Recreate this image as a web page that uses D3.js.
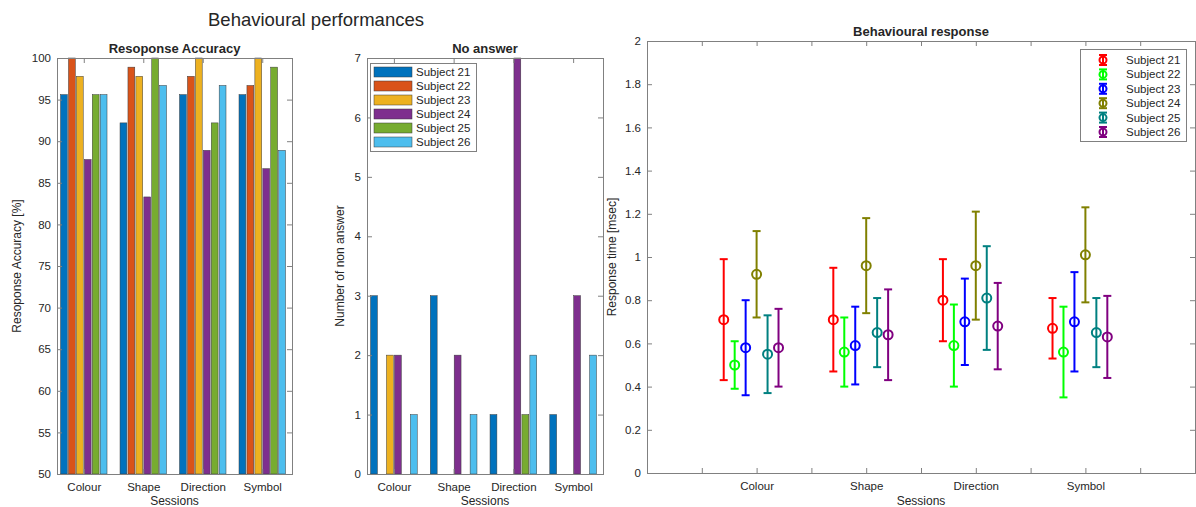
<!DOCTYPE html>
<html>
<head>
<meta charset="utf-8">
<script src="https://cdn.jsdelivr.net/npm/d3@7"></script>
<style>
  body { margin: 0; background: #fff; }
  svg { display: block; font-family: "Liberation Sans", Arial, sans-serif; }
  .tick text { fill: #262626; font-size: 11.5px; }
</style>
</head>
<body>
<svg id="fig" width="1196" height="507"></svg>
<script>
// ---- data ----
var sessions = ["Colour", "Shape", "Direction", "Symbol"];
var subjects = ["Subject 21", "Subject 22", "Subject 23", "Subject 24", "Subject 25", "Subject 26"];

// accuracy [%], one row per session, one value per subject
var accColour    = [95.6, 100, 97.8, 87.8, 95.6, 95.6];
var accShape     = [92.2, 98.9, 97.8, 83.3, 100, 96.7];
var accDirection = [95.6, 97.8, 100, 88.9, 92.2, 96.7];
var accSymbol    = [95.6, 96.7, 100, 86.7, 98.9, 88.9];

// number of non answers
var naColour    = [3, 0, 2, 2, 0, 1];
var naShape     = [3, 0, 0, 2, 0, 1];
var naDirection = [1, 0, 0, 7, 1, 2];
var naSymbol    = [1, 0, 0, 3, 0, 2];

// response time mean and error half-width
var rtColour    = [0.71, 0.50, 0.58, 0.92, 0.55, 0.58];
var rtShape     = [0.71, 0.56, 0.59, 0.96, 0.65, 0.64];
var rtDirection = [0.80, 0.59, 0.70, 0.96, 0.81, 0.68];
var rtSymbol    = [0.67, 0.56, 0.70, 1.01, 0.65, 0.63];
var errColour    = [0.28, 0.11, 0.22, 0.20, 0.18, 0.18];
var errShape     = [0.24, 0.16, 0.18, 0.22, 0.16, 0.21];
var errDirection = [0.19, 0.19, 0.20, 0.25, 0.24, 0.20];
var errSymbol    = [0.14, 0.21, 0.23, 0.22, 0.16, 0.19];

var accTicks = d3.range(50, 101, 5);
var naTicks = d3.range(0, 8, 1);
var rtTicks = d3.range(0, 2.01, 0.2);

var barColors = ["#0072BD", "#D95319", "#EDB120", "#7E2F8E", "#77AC30", "#4DBEEE"];
var dotColors = ["#ff0000", "#00ff00", "#0000ff", "#808000", "#008080", "#800080"];

var accuracy = [accColour, accShape, accDirection, accSymbol];
var noAnswer = [naColour, naShape, naDirection, naSymbol];
var rtMean = [rtColour, rtShape, rtDirection, rtSymbol];
var rtErr = [errColour, errShape, errDirection, errSymbol];

var svg = d3.select("#fig");
var axisCol = "#808080", textCol = "#262626";

svg.append("text")
  .attr("x", 316).attr("y", 26)
  .attr("text-anchor", "middle")
  .style("font-size", "18.5px").style("fill", textCol)
  .text("Behavioural performances");

function frame(g, x0, x1, y0, y1) {
  g.append("rect")
    .attr("x", x0 + 0.5).attr("y", y0 + 0.5)
    .attr("width", x1 - x0).attr("height", y1 - y0)
    .attr("fill", "none").attr("stroke", axisCol).attr("stroke-width", 1);
}

function styleAxis(sel) {
  sel.select(".domain").remove();
  sel.selectAll(".tick line").attr("stroke", axisCol);
}

function labels(g, x0, x1, y0, y1, title, ylab, ylabX) {
  g.append("text")
    .attr("x", (x0 + x1) / 2).attr("y", y0 - 5)
    .attr("text-anchor", "middle")
    .style("font-size", "13px").style("font-weight", "bold").style("fill", textCol)
    .text(title);
  g.append("text")
    .attr("transform", "translate(" + ylabX + "," + ((y0 + y1) / 2) + ") rotate(-90)")
    .attr("text-anchor", "middle")
    .style("font-size", "12px").style("fill", textCol)
    .text(ylab);
  g.append("text")
    .attr("x", (x0 + x1) / 2).attr("y", 505)
    .attr("text-anchor", "middle")
    .style("font-size", "12px").style("fill", textCol)
    .text("Sessions");
}

function barPanel(x0, x1, y0, y1, yDomain, ticks, values, title, ylab, ylabX) {
  var g = svg.append("g");
  var x = d3.scaleLinear().domain([0.55, 4.5]).range([x0, x1]);
  var y = d3.scaleLinear().domain(yDomain).range([y1, y0]);
  var step = x(1 + 0.8 / 6) - x(1);
  var bw = step * 0.86;

  sessions.forEach(function(s, i) {
    g.selectAll(null)
      .data(values[i])
      .enter().append("rect")
      .attr("x", function(d, j) { return x(i + 1) + (j - 2.5) * step - bw / 2; })
      .attr("y", function(d) { return y(d); })
      .attr("width", bw)
      .attr("height", function(d) { return y(yDomain[0]) - y(d); })
      .attr("fill", function(d, j) { return barColors[j]; })
      .attr("stroke", "#3a3a3a").attr("stroke-width", 0.5);
  });

  g.append("g").attr("transform", "translate(" + x0 + ",0)")
    .call(d3.axisLeft(y).tickValues(ticks).tickSize(-5).tickPadding(6).tickFormat(d3.format("~g")))
    .call(styleAxis);
  g.append("g").attr("transform", "translate(" + x1 + ",0)")
    .call(d3.axisRight(y).tickValues(ticks).tickSize(-5).tickFormat(""))
    .call(styleAxis);
  g.append("g").attr("transform", "translate(0," + y1 + ")")
    .call(d3.axisBottom(x).tickValues([1, 2, 3, 4]).tickSize(-5).tickPadding(9)
      .tickFormat(function(d) { return sessions[d - 1]; }))
    .call(styleAxis);
  g.append("g").attr("transform", "translate(0," + y0 + ")")
    .call(d3.axisTop(x).tickValues([1, 2, 3, 4]).tickSize(-5).tickFormat(""))
    .call(styleAxis);
  frame(g, x0, x1, y0, y1);
  labels(g, x0, x1, y0, y1, title, ylab, ylabX);
  return g;
}

barPanel(57, 292, 58, 474, [50, 100], accTicks, accuracy,
  "Resoponse Accuracy", "Resoponse Accuracy [%]", 21);
var gNa = barPanel(367, 603, 58, 474, [0, 7], naTicks, noAnswer,
  "No answer", "Number of non answer", 344);

// legend of the bar charts
var legNa = gNa.append("g").attr("transform", "translate(370,63)");
legNa.append("rect").attr("x", 0.5).attr("y", 0.5).attr("width", 106).attr("height", 88)
  .attr("fill", "#fff").attr("stroke", axisCol);
subjects.forEach(function(s, j) {
  legNa.append("rect").attr("x", 4).attr("y", 4 + j * 14).attr("width", 38).attr("height", 10)
    .attr("fill", barColors[j]).attr("stroke", "#3a3a3a").attr("stroke-width", 0.5);
  legNa.append("text").attr("x", 46).attr("y", 13 + j * 14)
    .style("font-size", "11.5px").style("fill", textCol).text(s);
});

// ---- response time panel ----
(function() {
  var x0 = 647, x1 = 1195, y0 = 41, y1 = 473;
  var g = svg.append("g");
  var x = d3.scaleLinear().domain([0, 5]).range([x0, x1]);
  var y = d3.scaleLinear().domain([0, 2]).range([y1, y0]);
  var cap = 4;

  sessions.forEach(function(s, i) {
    var pts = rtMean[i].map(function(m, j) {
      return { m: m, e: rtErr[i][j], xv: i + 1 + (j - 3) * 0.1, c: dotColors[j] };
    });
    var eb = g.selectAll(null).data(pts).enter().append("g")
      .attr("stroke", function(d) { return d.c; }).attr("stroke-width", 2).attr("fill", "none");
    eb.append("line")
      .attr("x1", function(d) { return x(d.xv); }).attr("x2", function(d) { return x(d.xv); })
      .attr("y1", function(d) { return y(d.m - d.e); }).attr("y2", function(d) { return y(d.m + d.e); });
    eb.append("line")
      .attr("x1", function(d) { return x(d.xv) - cap; }).attr("x2", function(d) { return x(d.xv) + cap; })
      .attr("y1", function(d) { return y(d.m - d.e); }).attr("y2", function(d) { return y(d.m - d.e); });
    eb.append("line")
      .attr("x1", function(d) { return x(d.xv) - cap; }).attr("x2", function(d) { return x(d.xv) + cap; })
      .attr("y1", function(d) { return y(d.m + d.e); }).attr("y2", function(d) { return y(d.m + d.e); });
    eb.append("circle")
      .attr("cx", function(d) { return x(d.xv); }).attr("cy", function(d) { return y(d.m); })
      .attr("r", 4.5);
  });

  var xt = d3.range(0, 5.01, 0.5);
  g.append("g").attr("transform", "translate(" + x0 + ",0)")
    .call(d3.axisLeft(y).tickValues(rtTicks).tickSize(-5).tickPadding(6).tickFormat(d3.format("~g")))
    .call(styleAxis);
  g.append("g").attr("transform", "translate(" + x1 + ",0)")
    .call(d3.axisRight(y).tickValues(rtTicks).tickSize(-5).tickFormat(""))
    .call(styleAxis);
  g.append("g").attr("transform", "translate(0," + y1 + ")")
    .call(d3.axisBottom(x).tickValues(xt).tickSize(-5).tickPadding(9)
      .tickFormat(function(d) { return (d >= 1 && d <= 4 && d % 1 === 0) ? sessions[d - 1] : ""; }))
    .call(styleAxis);
  g.append("g").attr("transform", "translate(0," + y0 + ")")
    .call(d3.axisTop(x).tickValues(xt).tickSize(-5).tickFormat(""))
    .call(styleAxis);
  frame(g, x0, x1, y0, y1);
  labels(g, x0, x1, y0, y1, "Behavioural response", "Response time [msec]", 616);

  var leg = g.append("g").attr("transform", "translate(1080,49)");
  leg.append("rect").attr("x", 0.5).attr("y", 0.5).attr("width", 106).attr("height", 92)
    .attr("fill", "#fff").attr("stroke", axisCol);
  subjects.forEach(function(s, j) {
    var cy = 11 + j * 14.4;
    var m = leg.append("g").attr("stroke", dotColors[j]).attr("stroke-width", 2).attr("fill", "none");
    m.append("line").attr("x1", 23).attr("x2", 23).attr("y1", cy - 5).attr("y2", cy + 5);
    m.append("line").attr("x1", 19).attr("x2", 27).attr("y1", cy - 5).attr("y2", cy - 5);
    m.append("line").attr("x1", 19).attr("x2", 27).attr("y1", cy + 5).attr("y2", cy + 5);
    m.append("circle").attr("cx", 23).attr("cy", cy).attr("r", 3.5);
    leg.append("text").attr("x", 46).attr("y", cy + 4)
      .style("font-size", "11.5px").style("fill", textCol).text(s);
  });
})();
</script>
</body>
</html>
